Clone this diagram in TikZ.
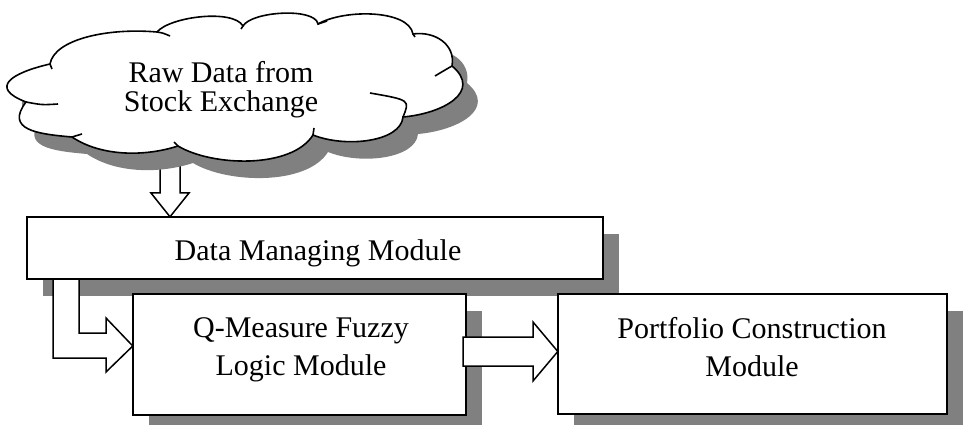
\documentclass[tikz,border=0pt]{standalone}
\usepackage{fontspec}
\setmainfont{Liberation Serif}
\usetikzlibrary{calc}
\begin{document}
\begin{tikzpicture}[x=1pt,y=-1pt,
  outl/.style={draw=black, line width=1.6pt, line join=miter},
  boxnode/.style={outl, fill=white, rectangle, inner sep=0pt},
  shade/.style={fill=black!50},
  txt/.style={font=\fontsize{30}{38}\selectfont, align=center, inner sep=0pt},
  blockarrow/.style={draw=black, line width=1.5pt, fill=white, line join=miter},
  stub/.style={draw=black, line width=1.6pt},
  cloudpath/.style={insert path={
    (26,102) .. controls +(-159:40) and +(-193:40) .. (50,64)
    .. controls +(-80:25) and +(-175:50) .. (157,32)
    .. controls +(-50:20) and +(-120:20) .. (243,26)
    .. controls +(-60:17) and +(-100:17) .. (318,24)
    .. controls +(-30:30) and +(-100:25) .. (413,34)
    .. controls +(-8:22) and +(-80:22) .. (452,66)
    .. controls +(40:40) and +(-5:40) .. (403,117)
    .. controls +(95:25) and +(22:35) .. (313,135)
    .. controls +(122:40) and +(31:40) .. (178,146)
    .. controls +(162:35) and +(34:35) .. (72,137)
    .. controls +(-175:35) and +(127:35) .. (26,102) -- cycle}},
]
\useasboundingbox (0,0) rectangle (970,425);
\clip (0,0) rectangle (970,425);

% boxes (nodes) -- drawn later in order, named first via path only
\path (315,248) node[minimum width=576pt, minimum height=62pt, inner sep=0pt] (dmm) {};
\path (299.5,354.5) node[minimum width=333pt, minimum height=121pt, inner sep=0pt] (q) {};
\path (752.5,354) node[minimum width=389pt, minimum height=120pt, inner sep=0pt] (p) {};

% shadows of boxes
\fill[shade] ($(p.south west)+(16,17)$) rectangle ($(p.north east)+(16,17)$);
\fill[shade] ($(q.south west)+(16,17)$) rectangle ($(q.north east)+(16,17)$);
\fill[shade] ($(dmm.south west)+(16,17)$) rectangle ($(dmm.north east)+(16,17)$);

% elbow arrow from Data Managing Module to Q-Measure module
\draw[blockarrow] (53,270) -- (53,358) -- (106,358) -- (106,372)
  -- (q.west |- 0,346) -- (106,318) -- (106,333) -- (79,333) -- (79,270) -- cycle;

% boxes
\draw[outl, fill=white] (q.north west) rectangle (q.south east);
\draw[outl, fill=white] (p.north west) rectangle (p.south east);
\draw[outl, fill=white] (dmm.north west) rectangle (dmm.south east);

% down arrow from cloud to Data Managing Module
\draw[blockarrow] (160,150) -- (160,193) -- (151,193) -- (170,0 |- dmm.north)
  -- (189,193) -- (180,193) -- (180,150) -- cycle;

% cloud with shadow
\fill[shade, shift={(15,17)}, cloudpath];
\path[outl, fill=white, cloudpath];
\draw[stub] (26,102) .. controls (42,105) .. (58,104);
\draw[stub] (50,64) -- (52,69);
\draw[stub] (157,32) .. controls (163,33) .. (170,36);
\draw[stub] (243,26) -- (241,29);
\draw[stub] (318,24) -- (327,21);
\draw[stub] (413,34) -- (415,37);
\draw[stub] (452,66) .. controls (445,70) .. (435,76);
\draw[stub] (403,117) .. controls (410,100) .. (370,93);
\draw[stub] (313,135) -- (314,128);
\draw[stub] (178,146) -- (174,142);
\draw[stub] (72,137) -- (82,134);

% arrow from Q-Measure module to Portfolio module
\draw[blockarrow] (463,337) -- (533,337) -- (533,322) -- (p.west |- 0,351.5)
  -- (533,381) -- (533,366) -- (463,366) -- cycle;

% texts
\node[txt, font=\fontsize{30}{29}\selectfont] (ct) at (221,89.5) {Raw Data from\\Stock Exchange};
\node[txt, anchor=base] (dmmt) at (318,260) {Data Managing Module};
\node[txt] (qt) at (301,350) {Q-Measure Fuzzy\\Logic Module};
\node[txt] (pt) at (752,347) {Portfolio Construction\\Module};
\end{tikzpicture}
\end{document}
